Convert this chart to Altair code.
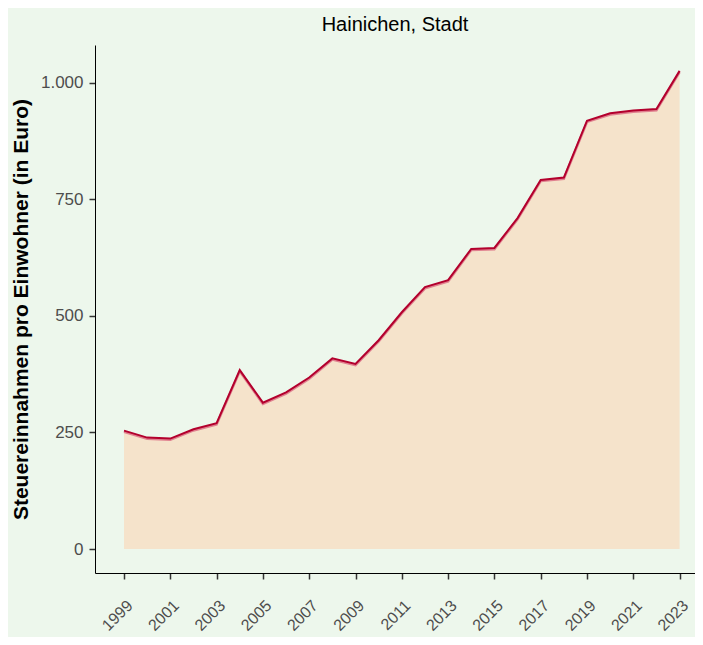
import altair as alt
import pandas as pd

years = list(range(1999, 2024))
values = [254, 239, 237, 257, 270, 384, 314, 336, 368, 409, 397,
          448, 508, 562, 577, 644, 646, 710, 792, 797, 919, 935, 941, 944, 1026]
y_ticks = [0, 250, 500, 750, 1000]
x_ticks = list(range(1999, 2024, 2))

df = pd.DataFrame({"Jahr": years, "Wert": values})

bg = "#EDF7EC"
FONT = "Liberation Sans"
x_scale = alt.Scale(domain=[1997.747, 2023.665], nice=False, zero=False)
y_scale = alt.Scale(domain=[-51.5, 1081.5], nice=False, zero=False)

x_enc = alt.X("Jahr:Q", scale=x_scale, axis=alt.Axis(
    values=x_ticks, format="d", labelAngle=-45, title=None, grid=False,
    domainColor="black", domainWidth=1, tickColor="#333333", tickWidth=1.5,
    tickSize=6, labelColor="#4D4D4D", labelFontSize=16, labelPadding=18,
    labelFont=FONT, labelAlign="right", labelBaseline="top", labelFlush=False,
    labelOverlap=False))
y_enc = alt.Y("Wert:Q", scale=y_scale, axis=alt.Axis(
    values=y_ticks, title="Steuereinnahmen pro Einwohner (in Euro)",
    labelExpr="replace(format(datum.value, ','), ',', '.')",
    grid=False, domainColor="black", domainWidth=1, tickColor="#333333",
    tickWidth=1.5, tickSize=6, labelColor="#4D4D4D", labelFontSize=17,
    labelFont=FONT, labelPadding=6, titleFont=FONT,
    titleFontSize=21, titleFontWeight="bold", titleColor="black", titlePadding=9,
    labelOverlap=False))

base = alt.Chart(df)
area = base.mark_area(color="#F5E3CB", opacity=1).encode(x=x_enc, y=y_enc, y2=alt.datum(0))
shadow = base.mark_line(color="#E0808F", strokeWidth=2.5, yOffset=1.2).encode(x="Jahr:Q", y="Wert:Q")
line = base.mark_line(color="#B3002D", strokeWidth=2).encode(x="Jahr:Q", y="Wert:Q")

chart = alt.layer(area, shadow, line).properties(
    width=600, height=528,
    title=alt.TitleParams("Hainichen, Stadt", font=FONT, fontSize=20,
                          fontWeight="normal", color="black", anchor="middle", offset=10),
    background=bg,
    padding={"left": 87, "top": 37, "right": 0, "bottom": 64},
    autosize=alt.AutoSizeParams(type="none"),
).configure_view(stroke=None, fill=bg)

chart.save("out.html", embed_options={"renderer": "svg", "actions": False})
